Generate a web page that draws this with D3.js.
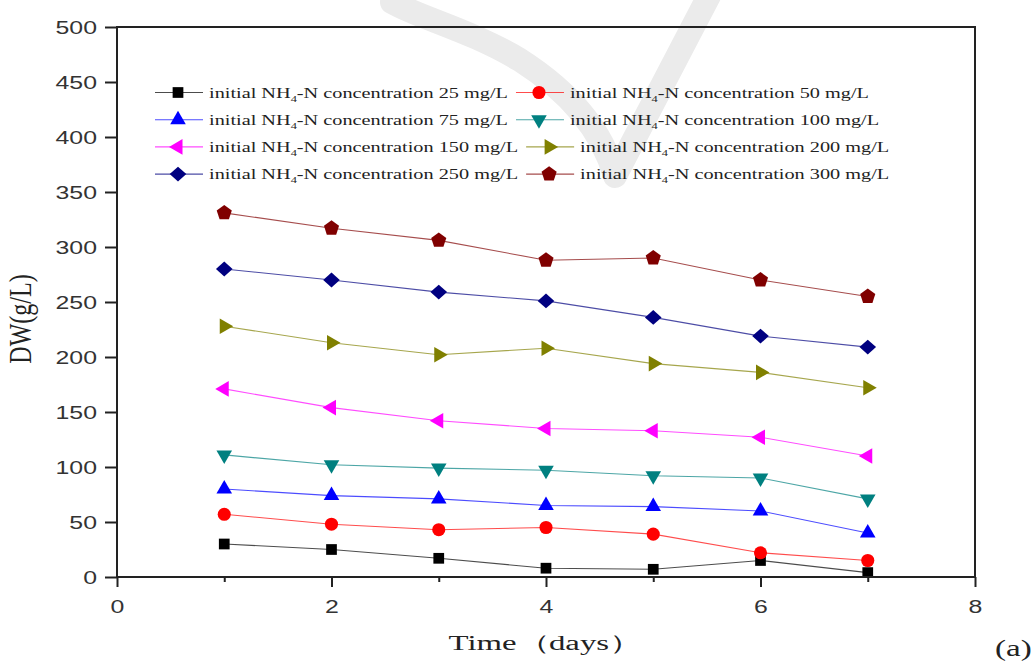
<!DOCTYPE html>
<html lang="en">

<head>
	<meta charset="UTF-8">
	<script src="https://cdn.jsdelivr.net/npm/d3@7"></script>
	<title>DW vs time</title>
</head>
<style>
	body {
		margin: 0;
		background: #fff;
	}

	svg {
		display: block;
	}

	.tick-label {
		font-family: "Liberation Sans", Arial, sans-serif;
		font-size: 18px;
		fill: #333;
	}

	.serif {
		font-family: "Liberation Serif", "Times New Roman", serif;
		fill: #222;
	}
</style>

<body>
	<svg id="chart" width="1035" height="664"></svg>
	<script>
		// data
		const days = [1, 2, 3, 4, 5, 6, 7];
		const concentrations = [25, 50, 75, 100, 150, 200, 250, 300];
		const dw25 = [30, 25, 17, 8, 7, 15, 4];
		const dw50 = [57, 48, 43, 45, 39, 22, 15];
		const dw75 = [80, 74, 71, 65, 64, 60, 40];
		const dw100 = [111, 102, 99, 97, 92, 90, 71];
		const dw150 = [171, 154, 142, 135, 133, 127, 110];
		const dw200 = [228, 213, 202, 208, 194, 186, 172];
		const dw250 = [280, 270, 259, 251, 236, 219, 209];
		const dw300 = [331, 317, 306, 288, 290, 270, 255];
		const seriesValues = [dw25, dw50, dw75, dw100, dw150, dw200, dw250, dw300];
		const xTicks = [0, 2, 4, 6, 8];
		const xMinorTicks = [1, 3, 5, 7];
		const yTicks = [0, 50, 100, 150, 200, 250, 300, 350, 400, 450, 500];

		const colors = ['#000000', '#ff0000', '#0000ff', '#008080', '#ff00ff', '#808000', '#000080', '#800000'];
		const shapes = ['square', 'circle', 'up', 'down', 'left', 'right', 'diamond', 'pentagon'];

		const width = 1035, height = 664;
		const margin = { top: 27, right: 60, bottom: 87, left: 117 };
		const sx = 1.38; // the figure's text is stretched horizontally

		const svg = d3.select('#chart');

		// faint watermark stroke behind the plot
		svg.append('path')
			.attr('d', 'M392,2 C420,18 470,30 520,60 C570,92 602,130 615,176 L712,-10')
			.attr('fill', 'none')
			.attr('stroke', '#ebebeb')
			.attr('stroke-width', 24)
			.attr('stroke-linejoin', 'round')
			.attr('stroke-linecap', 'round');

		const xScale = d3.scaleLinear().domain([0, 8]).range([margin.left, width - margin.right]);
		const yScale = d3.scaleLinear().domain([0, 500]).range([height - margin.bottom, margin.top]);

		// custom marker shapes
		const pentagon = {
			draw(ctx, size) {
				const r = Math.sqrt(size / 2.378);
				for (let i = 0; i < 5; i++) {
					const a = -Math.PI / 2 + i * 2 * Math.PI / 5;
					i ? ctx.lineTo(r * Math.cos(a), r * Math.sin(a)) : ctx.moveTo(r * Math.cos(a), r * Math.sin(a));
				}
				ctx.closePath();
			}
		};
		const diamond = {
			draw(ctx, size) {
				const w = Math.sqrt(size) * 0.62, h = Math.sqrt(size) * 0.55;
				ctx.moveTo(0, -h); ctx.lineTo(w, 0); ctx.lineTo(0, h); ctx.lineTo(-w, 0);
				ctx.closePath();
			}
		};
		function markerPath(shape) {
			if (shape === 'square') return d3.symbol(d3.symbolSquare, 115)();
			if (shape === 'circle') return d3.symbol(d3.symbolCircle, 135)();
			if (shape === 'pentagon') return d3.symbol(pentagon, 150)();
			if (shape === 'diamond') return d3.symbol(diamond, 180)();
			return d3.symbol(d3.symbolTriangle, 105)();
		}
		const rotation = { up: 0, down: 180, left: -90, right: 90 };
		function markerTransform(shape, x, y) {
			const r = rotation[shape] || 0;
			return `translate(${x},${y}) rotate(${r})`;
		}

		// lines and markers
		const line = d3.line().x((d, i) => xScale(days[i])).y(d => yScale(d));
		seriesValues.forEach((vals, s) => {
			svg.append('path')
				.datum(vals)
				.attr('d', line)
				.attr('fill', 'none')
				.attr('stroke', colors[s])
				.attr('stroke-opacity', 0.7)
				.attr('stroke-width', 1.1);
			svg.append('g').selectAll('path')
				.data(vals)
				.enter()
				.append('path')
				.attr('d', markerPath(shapes[s]))
				.attr('transform', (d, i) => markerTransform(shapes[s], xScale(days[i]), yScale(d)))
				.attr('fill', colors[s]);
		});

		// frame
		svg.append('rect')
			.attr('x', margin.left)
			.attr('y', margin.top)
			.attr('width', xScale(8) - margin.left)
			.attr('height', yScale(0) - margin.top)
			.attr('fill', 'none')
			.attr('stroke', '#222')
			.attr('stroke-width', 2);

		// y axis
		const yAxis = svg.append('g')
			.attr('transform', `translate(${margin.left},0)`)
			.call(d3.axisLeft(yScale).tickValues(yTicks).tickSize(12).tickSizeOuter(0).tickFormat(d3.format('d')));
		yAxis.select('.domain').remove();
		yAxis.selectAll('line').attr('stroke', '#222').attr('stroke-width', 2);
		yAxis.selectAll('text')
			.attr('class', 'tick-label')
			.attr('x', null).attr('dy', '0.36em')
			.attr('transform', `translate(-20,0) scale(${sx},1)`);

		// x axis, major + minor ticks
		const xAxis = svg.append('g')
			.attr('transform', `translate(0,${yScale(0)})`)
			.call(d3.axisBottom(xScale).tickValues(xTicks).tickSize(10).tickSizeOuter(0));
		xAxis.select('.domain').remove();
		xAxis.selectAll('line').attr('stroke', '#222').attr('stroke-width', 2);
		xAxis.selectAll('text')
			.attr('class', 'tick-label')
			.attr('y', null).attr('dy', null)
			.attr('transform', `translate(0,36) scale(${sx},1)`);
		svg.append('g')
			.attr('transform', `translate(0,${yScale(0)})`)
			.call(d3.axisBottom(xScale).tickValues(xMinorTicks).tickSize(5).tickFormat(''))
			.call(g => g.select('.domain').remove())
			.selectAll('line').attr('stroke', '#222').attr('stroke-width', 2);

		// axis titles
		svg.append('text')
			.attr('class', 'serif')
			.attr('text-anchor', 'middle')
			.attr('font-size', 24)
			.attr('transform', `translate(31,319) rotate(-90) scale(1,1.3)`)
			.text('DW(g/L)');
		svg.append('text')
			.attr('class', 'serif')
			.attr('text-anchor', 'middle')
			.attr('font-size', 20.5)
			.attr('transform', `translate(545,650) scale(1.6,1)`)
			.text('Time（days）');
		svg.append('text')
			.attr('class', 'serif')
			.attr('font-size', 24)
			.attr('transform', `translate(995,656) scale(${sx},1)`)
			.text('(a)');

		// legend, laid out in flowing rows of two like the original
		const legend = svg.append('g');
		const rowY = d => 92.5 + 27.2 * d;
		function legendItem(s, x0, y) {
			legend.append('line')
				.attr('x1', x0).attr('x2', x0 + 48)
				.attr('y1', y).attr('y2', y)
				.attr('stroke', colors[s]).attr('stroke-opacity', 0.7).attr('stroke-width', 1.1);
			legend.append('path')
				.attr('d', markerPath(shapes[s]))
				.attr('transform', markerTransform(shapes[s], x0 + 23, y))
				.attr('fill', colors[s]);
			const t = legend.append('text')
				.attr('class', 'serif')
				.attr('font-size', 14.7)
				.attr('transform', `translate(${x0 + 54},${y + 5}) scale(${sx},1)`);
			t.append('tspan').text('initial NH');
			t.append('tspan').attr('font-size', 9).attr('dy', 4).text('4');
			t.append('tspan').attr('dy', -4).text(`-N concentration ${concentrations[s]} mg/L`);
			return x0 + 54 + t.node().getComputedTextLength() * sx;
		}
		for (let r = 0; r < 4; r++) {
			const end = legendItem(r * 2, 155, rowY(r));
			legendItem(r * 2 + 1, end + 8, rowY(r));
		}
	</script>
</body>

</html>
